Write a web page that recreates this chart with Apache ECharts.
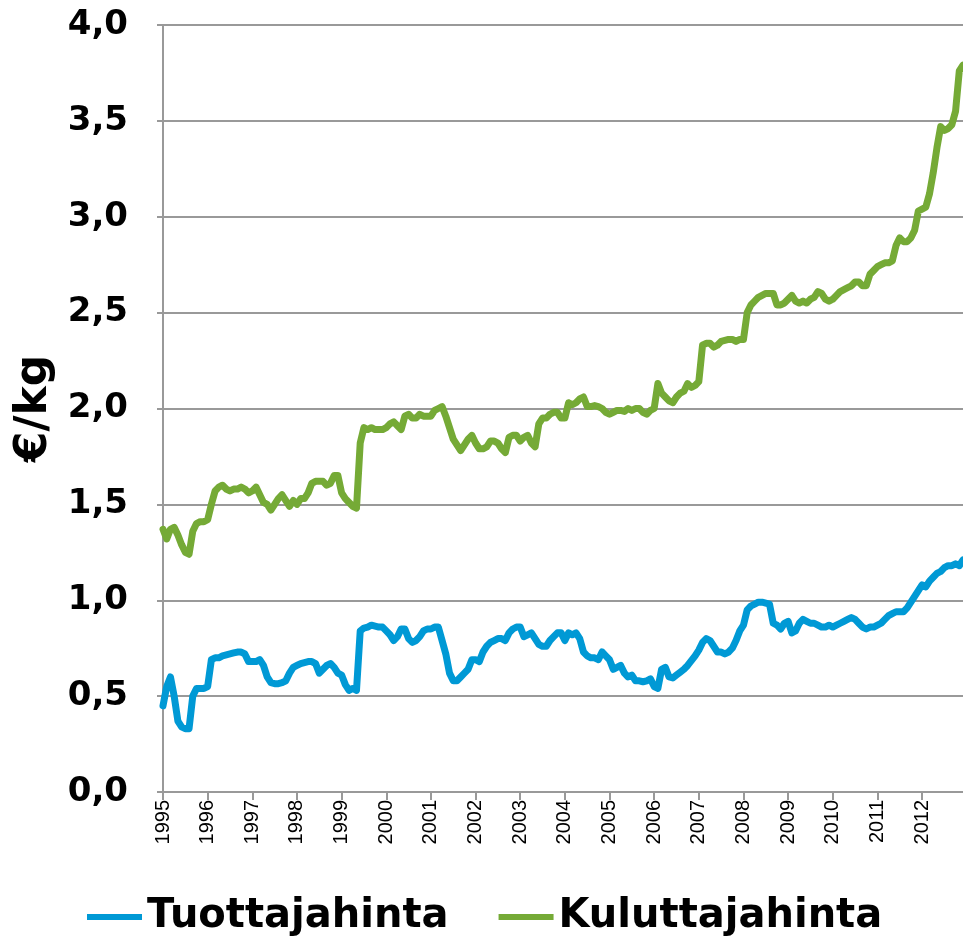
<!DOCTYPE html>
<html>
<head>
<meta charset="utf-8">
<script src="https://cdn.jsdelivr.net/npm/echarts@6/dist/echarts.min.js"></script>
<style>
html,body{margin:0;padding:0;background:#fff;}
#chart{width:963px;height:943px;}
</style>
</head>
<body>
<div id="chart"></div>
<script>
// Years shown on the x axis (monthly data, Jan 1995 - Dec 2012)
const years = [1995,1996,1997,1998,1999,2000,2001,2002,2003,2004,2005,2006,2007,2008,2009,2010,2011,2012];
const months = ['01','02','03','04','05','06','07','08','09','10','11','12'];
const seriesNames = ['Tuottajahinta', 'Kuluttajahinta'];
const yTicks = [0, 0.5, 1.0, 1.5, 2.0, 2.5, 3.0, 3.5, 4.0];

// Producer price (€/kg), monthly
const tuottajahinta = [
  0.45,0.55,0.60,0.50,0.37,0.34,0.33,0.33,0.50,0.54,0.54,0.54,
  0.55,0.69,0.70,0.70,0.71,0.715,0.72,0.725,0.73,0.73,0.72,0.68,
  0.68,0.68,0.69,0.66,0.60,0.57,0.565,0.565,0.57,0.58,0.62,0.65,
  0.66,0.67,0.675,0.68,0.68,0.67,0.62,0.64,0.66,0.67,0.65,0.62,
  0.61,0.56,0.53,0.54,0.53,0.84,0.855,0.86,0.87,0.865,0.86,0.86,
  0.84,0.82,0.79,0.81,0.85,0.85,0.80,0.78,0.79,0.81,0.84,0.85,
  0.85,0.86,0.86,0.79,0.72,0.62,0.58,0.58,0.60,0.62,0.64,0.69,
  0.69,0.68,0.73,0.76,0.78,0.79,0.80,0.80,0.79,0.83,0.85,0.86,
  0.86,0.81,0.82,0.83,0.80,0.77,0.76,0.76,0.79,0.81,0.83,0.83,
  0.79,0.83,0.82,0.83,0.80,0.73,0.71,0.70,0.70,0.69,0.73,0.71,
  0.69,0.64,0.65,0.66,0.62,0.60,0.61,0.58,0.58,0.575,0.58,0.59,
  0.55,0.54,0.64,0.65,0.60,0.595,0.61,0.625,0.64,0.66,0.685,0.71,
  0.74,0.78,0.80,0.79,0.76,0.73,0.73,0.72,0.73,0.75,0.79,0.84,
  0.87,0.95,0.97,0.98,0.99,0.99,0.985,0.98,0.88,0.87,0.85,0.88,
  0.89,0.83,0.84,0.88,0.90,0.89,0.88,0.88,0.87,0.86,0.86,0.87,
  0.86,0.87,0.88,0.89,0.90,0.91,0.90,0.88,0.86,0.85,0.86,0.86,
  0.87,0.88,0.90,0.92,0.93,0.94,0.94,0.94,0.96,0.99,1.02,1.05,
  1.08,1.07,1.10,1.12,1.14,1.15,1.17,1.18,1.18,1.19,1.18,1.21
];

// Consumer price (€/kg), monthly
const kuluttajahinta = [
  1.37,1.32,1.37,1.38,1.34,1.29,1.25,1.24,1.36,1.40,1.41,1.41,
  1.42,1.50,1.57,1.59,1.60,1.58,1.57,1.58,1.58,1.59,1.58,1.56,
  1.57,1.59,1.55,1.51,1.50,1.47,1.50,1.53,1.55,1.52,1.49,1.52,
  1.50,1.53,1.53,1.56,1.61,1.62,1.62,1.62,1.60,1.61,1.65,1.65,
  1.56,1.53,1.51,1.49,1.48,1.82,1.90,1.89,1.90,1.89,1.89,1.89,
  1.90,1.92,1.93,1.91,1.89,1.96,1.97,1.95,1.95,1.97,1.96,1.96,
  1.96,1.99,2.00,2.01,1.96,1.90,1.84,1.81,1.78,1.81,1.84,1.86,
  1.82,1.79,1.79,1.80,1.83,1.83,1.82,1.79,1.77,1.85,1.86,1.86,
  1.83,1.85,1.86,1.82,1.80,1.92,1.95,1.95,1.97,1.98,1.98,1.95,
  1.95,2.03,2.02,2.03,2.05,2.06,2.01,2.01,2.015,2.01,2.00,1.98,
  1.97,1.98,1.99,1.99,1.985,2.00,1.99,2.00,2.00,1.98,1.97,1.99,
  2.00,2.13,2.08,2.06,2.04,2.03,2.06,2.08,2.09,2.13,2.11,2.12,
  2.14,2.33,2.34,2.34,2.32,2.33,2.35,2.355,2.36,2.36,2.35,2.36,
  2.36,2.50,2.54,2.56,2.58,2.59,2.60,2.60,2.60,2.54,2.54,2.55,
  2.57,2.59,2.56,2.55,2.56,2.55,2.57,2.58,2.61,2.60,2.57,2.56,
  2.57,2.59,2.61,2.62,2.63,2.64,2.66,2.66,2.64,2.64,2.70,2.72,
  2.74,2.75,2.76,2.76,2.77,2.85,2.89,2.87,2.87,2.89,2.93,3.03,
  3.04,3.05,3.12,3.23,3.36,3.47,3.45,3.46,3.48,3.55,3.76,3.79
];

const categories = [];
years.forEach(y => months.forEach(m => categories.push(y + '-' + m)));

const FONT = '"Liberation Sans", Arial, sans-serif';
const HEAVY = '"DejaVu Sans", "Liberation Sans", Arial, sans-serif';
const chart = echarts.init(document.getElementById('chart'), null, {renderer: 'canvas'});
const isYearStart = (idx) => idx % 12 === 0;

chart.setOption({
  animation: false,
  backgroundColor: '#ffffff',
  grid: {left: 163, right: 0, top: 25, bottom: 151, containLabel: false},
  legend: {
    data: seriesNames,
    left: 82,
    top: 892,
    itemGap: 50,
    itemWidth: 55,
    itemHeight: 6,
    icon: 'rect',
    textStyle: {fontFamily: HEAVY, fontWeight: 'bold', fontSize: 40, color: '#000'}
  },
  xAxis: {
    type: 'category',
    data: categories,
    boundaryGap: false,
    axisLine: {lineStyle: {color: '#999', width: 2}},
    axisTick: {show: true, interval: (i) => isYearStart(i), length: 8, lineStyle: {color: '#999', width: 2}},
    axisLabel: {
      interval: (i) => isYearStart(i),
      rotate: 90,
      margin: 8,
      fontFamily: FONT,
      fontSize: 20,
      color: '#000',
      formatter: (v) => v.slice(0, 4)
    },
    splitLine: {show: false}
  },
  yAxis: {
    type: 'value',
    min: yTicks[0],
    max: yTicks[yTicks.length - 1],
    interval: 0.5,
    name: '€/kg',
    nameLocation: 'middle',
    nameGap: 88,
    nameRotate: 90,
    nameTextStyle: {fontFamily: HEAVY, fontWeight: 'bold', fontSize: 44, color: '#000'},
    axisLine: {show: true, lineStyle: {color: '#999', width: 2}},
    axisTick: {show: true, length: 6, lineStyle: {color: '#999', width: 2}},
    axisLabel: {
      margin: 35,
      fontFamily: HEAVY,
      fontWeight: 'bold',
      fontSize: 34,
      color: '#000',
      formatter: (v) => v.toFixed(1).replace('.', ',')
    },
    splitLine: {show: true, lineStyle: {color: '#999', width: 2}}
  },
  series: [
    {
      name: seriesNames[0],
      type: 'line',
      data: tuottajahinta,
      showSymbol: false,
      symbol: 'none',
      lineStyle: {color: '#0099d5', width: 7, join: 'round', cap: 'round'},
      itemStyle: {color: '#0099d5'}
    },
    {
      name: seriesNames[1],
      type: 'line',
      data: kuluttajahinta,
      showSymbol: false,
      symbol: 'none',
      lineStyle: {color: '#75aa36', width: 7, join: 'round', cap: 'round'},
      itemStyle: {color: '#75aa36'}
    }
  ]
});
</script>
</body>
</html>
